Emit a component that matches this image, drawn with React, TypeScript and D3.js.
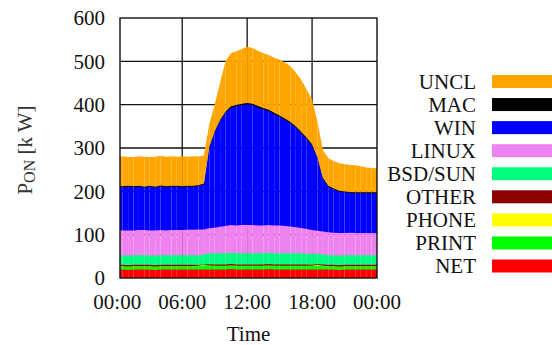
import React from "react";
import * as d3 from "d3";

// time of day in hours, half-hour steps
const hours = [
  0, 0.5, 1, 1.5, 2, 2.5, 3, 3.5, 4, 4.5, 5, 5.5, 6, 6.5, 7, 7.5, 8, 8.5, 9, 9.5,
  10, 10.5, 11, 11.5, 12, 12.5, 13, 13.5, 14, 14.5, 15, 15.5, 16, 16.5, 17, 17.5,
  18, 18.5, 19, 19.5, 20, 20.5, 21, 21.5, 22, 22.5, 23, 23.5, 24,
];

// power per device class [kW], stacked bottom to top
const net = [
  21, 21, 20, 21, 21, 21, 21, 20, 21, 21, 21, 21, 21, 21, 21, 21, 21, 21, 21, 21,
  21, 22, 21, 21, 21, 21, 21, 21, 22, 21, 21, 21, 21, 21, 21, 21, 21, 21, 21, 21,
  21, 20, 21, 21, 21, 21, 21, 21, 21,
];
const print = [
  7, 7, 7, 7, 7, 7, 7, 7, 7, 7, 7, 7, 7, 7, 7, 8, 10, 9, 8, 8,
  8, 8, 8, 8, 8, 8, 8, 8, 8, 8, 8, 8, 8, 8, 8, 8, 8, 9, 8, 7,
  7, 7, 7, 7, 7, 7, 7, 7, 7,
];
const phone = [
  0.5, 0.5, 0.5, 0.5, 0.5, 0.5, 0.5, 0.5, 0.5, 0.5, 0.5, 0.5, 0.5, 0.5, 0.5, 0.5, 1, 0.5, 0.5, 0.5,
  0.5, 0.5, 0.5, 0.5, 0.5, 0.5, 0.5, 0.5, 0.5, 0.5, 0.5, 0.5, 0.5, 0.5, 0.5, 0.5, 0.5, 2, 0.5, 0.5,
  0.5, 0.5, 0.5, 0.5, 0.5, 0.5, 0.5, 0.5, 0.5,
];
const other = [
  3.5, 3.5, 3.5, 3.5, 3.5, 3.5, 3.5, 3.5, 3.5, 3.5, 3.5, 3.5, 3.5, 3.5, 3.5, 2, 0.5, 2.5, 3, 3,
  3, 3, 3, 3, 3, 3, 3, 3, 3, 3, 3, 3, 3, 3, 3, 3, 2.5, 1.5, 3, 3.5,
  3.5, 3.5, 3.5, 3.5, 3.5, 3.5, 3.5, 3.5, 3.5,
];
const bsd = [
  22, 22, 22, 22, 22, 22, 22, 22, 22, 22, 22, 22, 22, 22, 22, 22, 23, 25, 26, 26,
  26, 26, 26, 26, 26, 26, 26, 26, 26, 26, 26, 26, 26, 26, 26, 25, 25, 24, 23, 22,
  22, 22, 22, 22, 22, 22, 22, 22, 22,
];
const linux = [
  58, 57, 58, 57, 58, 58, 57, 58, 58, 57, 58, 58, 58, 59, 59, 60, 58, 58, 59, 61,
  63, 64, 64, 65, 65, 65, 64, 64, 64, 64, 64, 63, 62, 60, 58, 57, 55, 53, 53, 53,
  52, 52, 51, 52, 51, 51, 51, 51, 51,
];
const win = [
  100, 100, 101, 100, 100, 98, 101, 99, 101, 100, 100, 100, 99, 99, 99, 100, 104, 186, 220, 244,
  261, 271, 275, 277, 279, 277, 273, 268, 263, 257, 251, 245, 238, 230, 219, 208, 195, 167, 122, 105,
  100, 96, 94, 92, 92, 92, 92, 92, 92,
];
const mac = [
  2, 2, 2, 2, 2, 2, 2, 2, 2, 2, 2, 2, 2, 2, 2, 2, 2, 3, 3, 3,
  3, 3, 3, 3, 3, 3, 3, 3, 3, 3, 3, 3, 3, 3, 3, 3, 3, 3, 2, 2,
  2, 2, 2, 2, 2, 2, 2, 2, 2,
];
const uncl = [
  66, 68, 65, 66, 67, 68, 65, 68, 67, 67, 67, 66, 68, 66, 67, 65, 63, 50, 60, 84,
  115, 121, 123, 125, 128, 127, 126, 125, 125, 126, 127, 128, 127, 123, 119, 109, 102, 80, 63, 63,
  62, 62, 62, 61, 61, 59, 56, 55, 54,
];

const seriesNames = ["NET", "PRINT", "PHONE", "OTHER", "BSD/SUN", "LINUX", "WIN", "MAC", "UNCL"];
const seriesValues = [net, print, phone, other, bsd, linux, win, mac, uncl];
const seriesColors = ["#ff0000", "#00ff00", "#ffff00", "#8b0000", "#00ff7f", "#ee82ee", "#0000ff", "#000000", "#ffa500"];

const yTicks = [0, 100, 200, 300, 400, 500, 600];
const xTicks = [0, 6, 12, 18, 24];
const xTickLabels = ["00:00", "06:00", "12:00", "18:00", "00:00"];

const font = "'Liberation Serif', 'Times New Roman', serif";

export default function App() {
  const width = 552;
  const height = 345;
  const left = 120, right = 377, top = 18, bottom = 278;

  const x = d3.scaleLinear().domain([0.25, 24]).range([left, right]);
  const y = d3.scaleLinear().domain([0, 600]).range([bottom, top]);

  const rows = hours.map((h, i) => {
    const r: any = { h };
    seriesNames.forEach((k, j) => (r[k] = seriesValues[j][i]));
    return r;
  });
  const stacked = d3.stack<any>().keys(seriesNames)(rows);

  const legendY = d3.scaleLinear().domain([0, 8]).range([81.5, 266]);
  const legendOrder = seriesNames.map((_, i) => i).reverse();

  return (
    <svg width={width} height={height} style={{ position: "absolute", left: 0, top: 0, background: "#fff" }}>
      <defs>
        <clipPath id="plot">
          <rect x={left} y={top} width={right - left} height={bottom - top} />
        </clipPath>
      </defs>

      {/* grid */}
      <g stroke="#111" strokeWidth={1.3}>
        {yTicks.slice(1, -1).map((t) => (
          <line key={"gy" + t} x1={left} x2={right} y1={y(t)} y2={y(t)} />
        ))}
        {xTicks.slice(1, -1).map((t) => (
          <line key={"gx" + t} x1={x(t)} x2={x(t)} y1={top} y2={bottom} />
        ))}
      </g>

      {/* stacked areas, one piece per time step */}
      <g clipPath="url(#plot)">
        {stacked.map((layer, li) => {
          const area = d3
            .area<any>()
            .x((d) => x(d.data.h))
            .y0((d) => y(d[0]) + (li > 0 ? 0.6 : 0))
            .y1((d) => y(d[1]));
          return (
            <g key={seriesNames[li]} fill={seriesColors[li]}>
              {layer.slice(0, -1).map((d, i) => (
                <path key={i} d={area([d, layer[i + 1]]) || ""} />
              ))}
            </g>
          );
        })}
      </g>

      <rect x={left} y={top} width={right - left} height={bottom - top} fill="none" stroke="#111" strokeWidth={1.4} />

      {/* axes labels */}
      <g fontFamily={font} fontSize={21} fill="#111">
        {yTicks.map((t) => (
          <text key={"ty" + t} x={105} y={y(t)} dy="0.35em" textAnchor="end">
            {t}
          </text>
        ))}
        {xTicks.map((t, i) => (
          <text key={"tx" + i} x={x(t)} y={309} textAnchor="middle">
            {xTickLabels[i]}
          </text>
        ))}
        <text x={(left + right) / 2} y={341} textAnchor="middle">
          Time
        </text>
        <text transform="translate(32,150) rotate(-90)" textAnchor="middle" fill="#333">
          P<tspan fontSize={16} dy={3}>ON</tspan>
          <tspan dy={-3}> [k W]</tspan>
        </text>
      </g>

      {/* legend */}
      <g fontFamily={font} fontSize={21} fill="#111">
        {legendOrder.map((si, row) => (
          <g key={seriesNames[si]}>
            <text x={476} y={legendY(row) + 7} textAnchor="end">
              {seriesNames[si]}
            </text>
            <rect x={492} y={legendY(row) - 6.5} width={62} height={13} fill={seriesColors[si]} />
          </g>
        ))}
      </g>
    </svg>
  );
}
